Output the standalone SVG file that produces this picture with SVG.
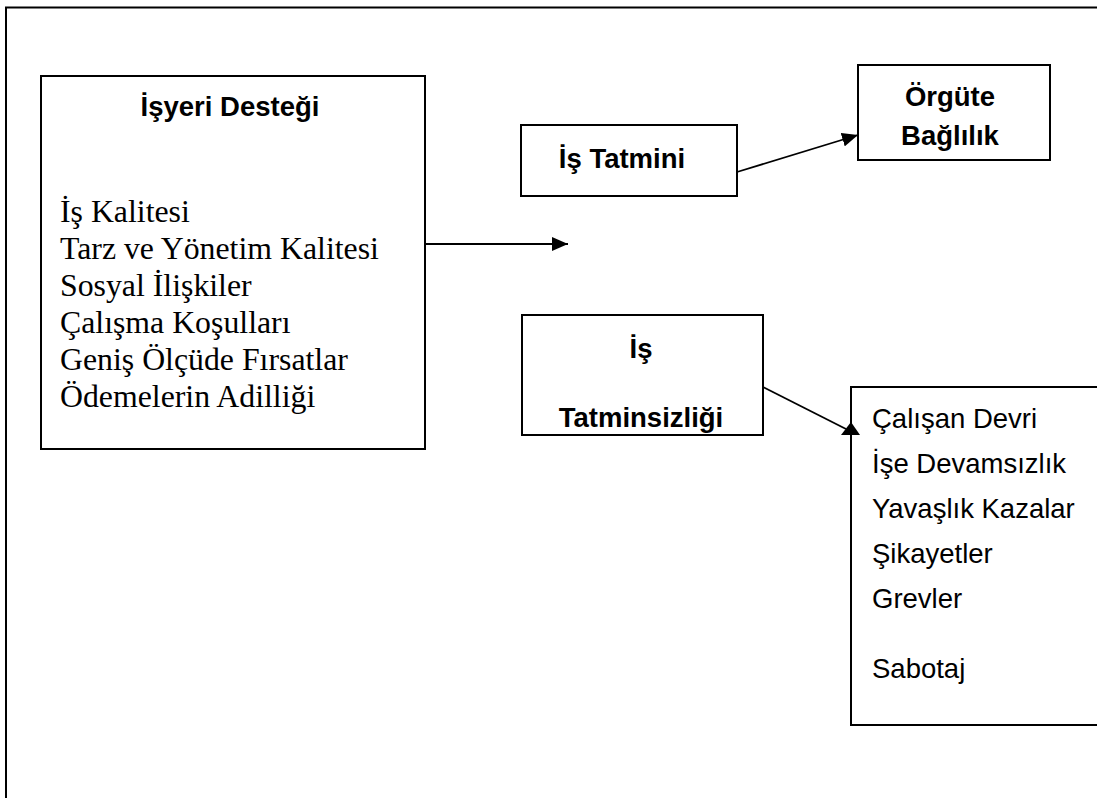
<svg xmlns="http://www.w3.org/2000/svg" width="1097" height="798" viewBox="0 0 1097 798">
  <defs>
    <style>
      .frame { fill: none; stroke: #000; stroke-width: 2; }
      .box { fill: #fff; stroke: #000; stroke-width: 2; }
      .link { fill: none; stroke: #000; stroke-width: 1.8; }
      .head { fill: #000; stroke: none; }
      .title { font-family: "Liberation Sans", Arial, sans-serif; font-weight: bold; font-size: 27.5px; fill: #000; }
      .serif { font-family: "Liberation Serif", "Times New Roman", serif; font-size: 31.8px; fill: #000; }
      .sans { font-family: "Liberation Sans", Arial, sans-serif; font-size: 27.5px; fill: #000; }
    </style>
    <marker id="arrow" markerUnits="userSpaceOnUse" markerWidth="16" markerHeight="14" refX="16" refY="7" orient="auto">
      <path class="head" d="M0,0 L16,7 L0,14 Z"/>
    </marker>
  </defs>

  <rect width="1097" height="798" fill="#fff"/>

  <!-- page frame, open on the right and bottom -->
  <rect class="frame" x="6" y="7.5" width="1200" height="900"/>

  <!-- workplace support -->
  <g id="isyeri-destegi">
    <rect class="box" x="41" y="76" width="384" height="373"/>
    <text class="title" x="230" y="116" text-anchor="middle">İşyeri Desteği</text>
    <text class="serif" x="60" y="222">İş Kalitesi</text>
    <text class="serif" x="60" y="259">Tarz ve Yönetim Kalitesi</text>
    <text class="serif" x="60" y="296">Sosyal İlişkiler</text>
    <text class="serif" x="60" y="333">Çalışma Koşulları</text>
    <text class="serif" x="60" y="370">Geniş Ölçüde Fırsatlar</text>
    <text class="serif" x="60" y="407">Ödemelerin Adilliği</text>
  </g>

  <!-- job satisfaction -->
  <g id="is-tatmini">
    <rect class="box" x="521" y="125" width="216" height="71"/>
    <text class="title" x="622" y="168" text-anchor="middle">İş Tatmini</text>
  </g>

  <!-- organisational commitment -->
  <g id="orgute-baglilik">
    <rect class="box" x="858" y="65" width="192" height="95"/>
    <text class="title" x="950" y="106" text-anchor="middle">Örgüte</text>
    <text class="title" x="950" y="145" text-anchor="middle">Bağlılık</text>
  </g>

  <!-- job dissatisfaction -->
  <g id="is-tatminsizligi">
    <rect class="box" x="522" y="315" width="241" height="120"/>
    <text class="title" x="641" y="358" text-anchor="middle">İş</text>
    <text class="title" x="641" y="427" text-anchor="middle">Tatminsizliği</text>
  </g>

  <!-- outcomes of dissatisfaction -->
  <g id="sonuclar">
    <rect class="box" x="851" y="387" width="300" height="338"/>
    <text class="sans" x="872" y="428">Çalışan Devri</text>
    <text class="sans" x="872" y="473">İşe Devamsızlık</text>
    <text class="sans" x="872" y="518">Yavaşlık Kazalar</text>
    <text class="sans" x="872" y="563">Şikayetler</text>
    <text class="sans" x="872" y="608">Grevler</text>
    <text class="sans" x="872" y="678">Sabotaj</text>
  </g>

  <!-- connectors -->
  <g id="connectors">
    <line class="link" x1="425" y1="244" x2="568" y2="244" marker-end="url(#arrow)"/>
    <line class="link" x1="737" y1="172" x2="858" y2="135" marker-end="url(#arrow)"/>
    <line class="link" x1="763" y1="387" x2="846" y2="429"/>
    <polygon class="head" points="851,422 841,435 860,435"/>
  </g>
</svg>
